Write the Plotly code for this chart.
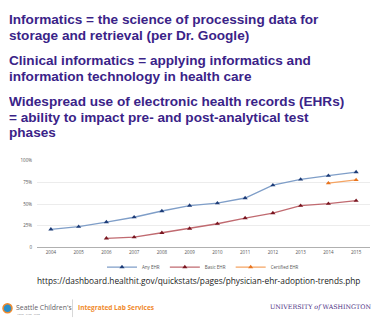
import plotly.graph_objects as go

W, H = 375, 325

years = ["2004", "2005", "2006", "2007", "2008", "2009", "2010", "2011", "2012", "2013", "2014", "2015"]
any_ehr = [20.8, 23.9, 29.2, 34.8, 42.0, 48.3, 51.0, 57.0, 71.8, 78.4, 82.8, 86.9]
basic_ehr = [None, None, 10.5, 11.8, 16.9, 21.8, 27.3, 33.9, 39.6, 48.1, 50.5, 53.9]
certified_ehr = [None] * 10 + [74.1, 77.9]
y_ticks = [0, 25, 50, 75, 100]
y_tick_labels = ["0", "25%", "50%", "75%", "100%"]

bullets = [
    "Informatics = the science of processing data for",
    "storage and retrieval (per Dr. Google)",
    "Clinical informatics = applying informatics and",
    "information technology in health care",
    "Widespread use of electronic health records (EHRs)",
    "= ability to impact pre- and post-analytical test",
    "phases",
]
bullet_baselines = [21.5, 38, 63.5, 80, 105, 121.5, 137]
source_url = "https://dashboard.healthit.gov/quickstats/pages/physician-ehr-adoption-trends.php"


def px(x):
    return x / W


def py(y):
    return 1 - y / H


fig = go.Figure()
series = [
    ("Any EHR", any_ehr, "#7f9ec8", "#1d3c78"),
    ("Basic EHR", basic_ehr, "#c06a70", "#7a1620"),
    ("Certified EHR", certified_ehr, "#f5a463", "#e8731d"),
]
for name, vals, lc, mc in series:
    fig.add_trace(go.Scatter(
        x=years, y=vals, name=name, mode="lines+markers",
        line=dict(color=lc, width=1.3),
        marker=dict(symbol="triangle-up", size=4.5, color=mc),
        connectgaps=False,
    ))

TITLE_PURPLE = "#3a2388"
annotations = []
fs = 13.6
for text, base in zip(bullets, bullet_baselines):
    annotations.append(dict(
        x=px(7), y=py(base - 4.4), xref="paper", yref="paper",
        xanchor="left", yanchor="middle", showarrow=False,
        text=text, align="left", height=15.5, valign="middle",
        font=dict(family="Liberation Sans", size=fs, color=TITLE_PURPLE, weight="bold"),
    ))

annotations.append(dict(
    x=px(198), y=py(283), xref="paper", yref="paper",
    xanchor="center", yanchor="middle", showarrow=False,
    text=source_url, font=dict(family="Open Sans", size=8.3, color="#1a1a1a"),
))

# footer
annotations += [
    dict(x=px(14), y=py(310), xref="paper", yref="paper", xanchor="left", yanchor="middle",
         showarrow=False, text="Seattle Children's", height=9,
         font=dict(family="Open Sans", size=6.9, color="#5f6166")),
    dict(x=px(14.5), y=py(316.3), xref="paper", yref="paper", xanchor="left", yanchor="middle",
         showarrow=False, text="HOPE · CARE · CURE", height=3,
         font=dict(family="Open Sans", size=2.5, color="#8a8c90")),
    dict(x=px(76), y=py(310), xref="paper", yref="paper", xanchor="left", yanchor="middle",
         showarrow=False, text="Integrated Lab Services", height=9,
         font=dict(family="Open Sans", size=6.5, color="#f08a2c", weight="bold")),
    dict(x=px(373), y=py(310), xref="paper", yref="paper", xanchor="right", yanchor="middle",
         showarrow=False, text="UNIVERSITY <i>of</i> WASHINGTON",
         font=dict(family="DejaVu Serif", size=6.3, color="#4b2e83")),
]

shapes = [
    dict(type="circle", xref="paper", yref="paper", x0=px(3), x1=px(12), y0=py(315.5), y1=py(306.5),
         fillcolor="#2a8fc8", line=dict(color="#f08a2c", width=1.5)),
    dict(type="line", xref="paper", yref="paper", x0=px(72.5), x1=px(72.5), y0=py(302), y1=py(320),
         line=dict(color="#d8d8d8", width=1)),
]

fig.update_layout(
    width=W, height=H,
    margin=dict(l=0, r=0, t=0, b=0),
    paper_bgcolor="white", plot_bgcolor="white",
    showlegend=True,
    legend=dict(orientation="h", x=px(203), y=py(269), xanchor="center", yanchor="middle",
                font=dict(family="Open Sans", size=4.5, color="#555"),
                itemwidth=30, tracegroupgap=0, bgcolor="rgba(0,0,0,0)"),
    xaxis=dict(domain=[px(37), px(370)], type="category", range=[-0.5, 11.5],
               showgrid=False, showline=True, linecolor="#b0b0b0", linewidth=1,
               ticks="", tickfont=dict(family="Open Sans", size=4.5, color="#555"),
               fixedrange=True),
    yaxis=dict(domain=[py(249), py(160.7)], range=[0, 100],
               tickvals=y_ticks, ticktext=y_tick_labels,
               showgrid=True, gridcolor="#ececec", gridwidth=1,
               zeroline=False, showline=False, ticks="",
               tickfont=dict(family="Open Sans", size=4.5, color="#555"),
               ticklabelstandoff=4, fixedrange=True),
    annotations=annotations,
    shapes=shapes,
)

fig.write_html("out.html")
